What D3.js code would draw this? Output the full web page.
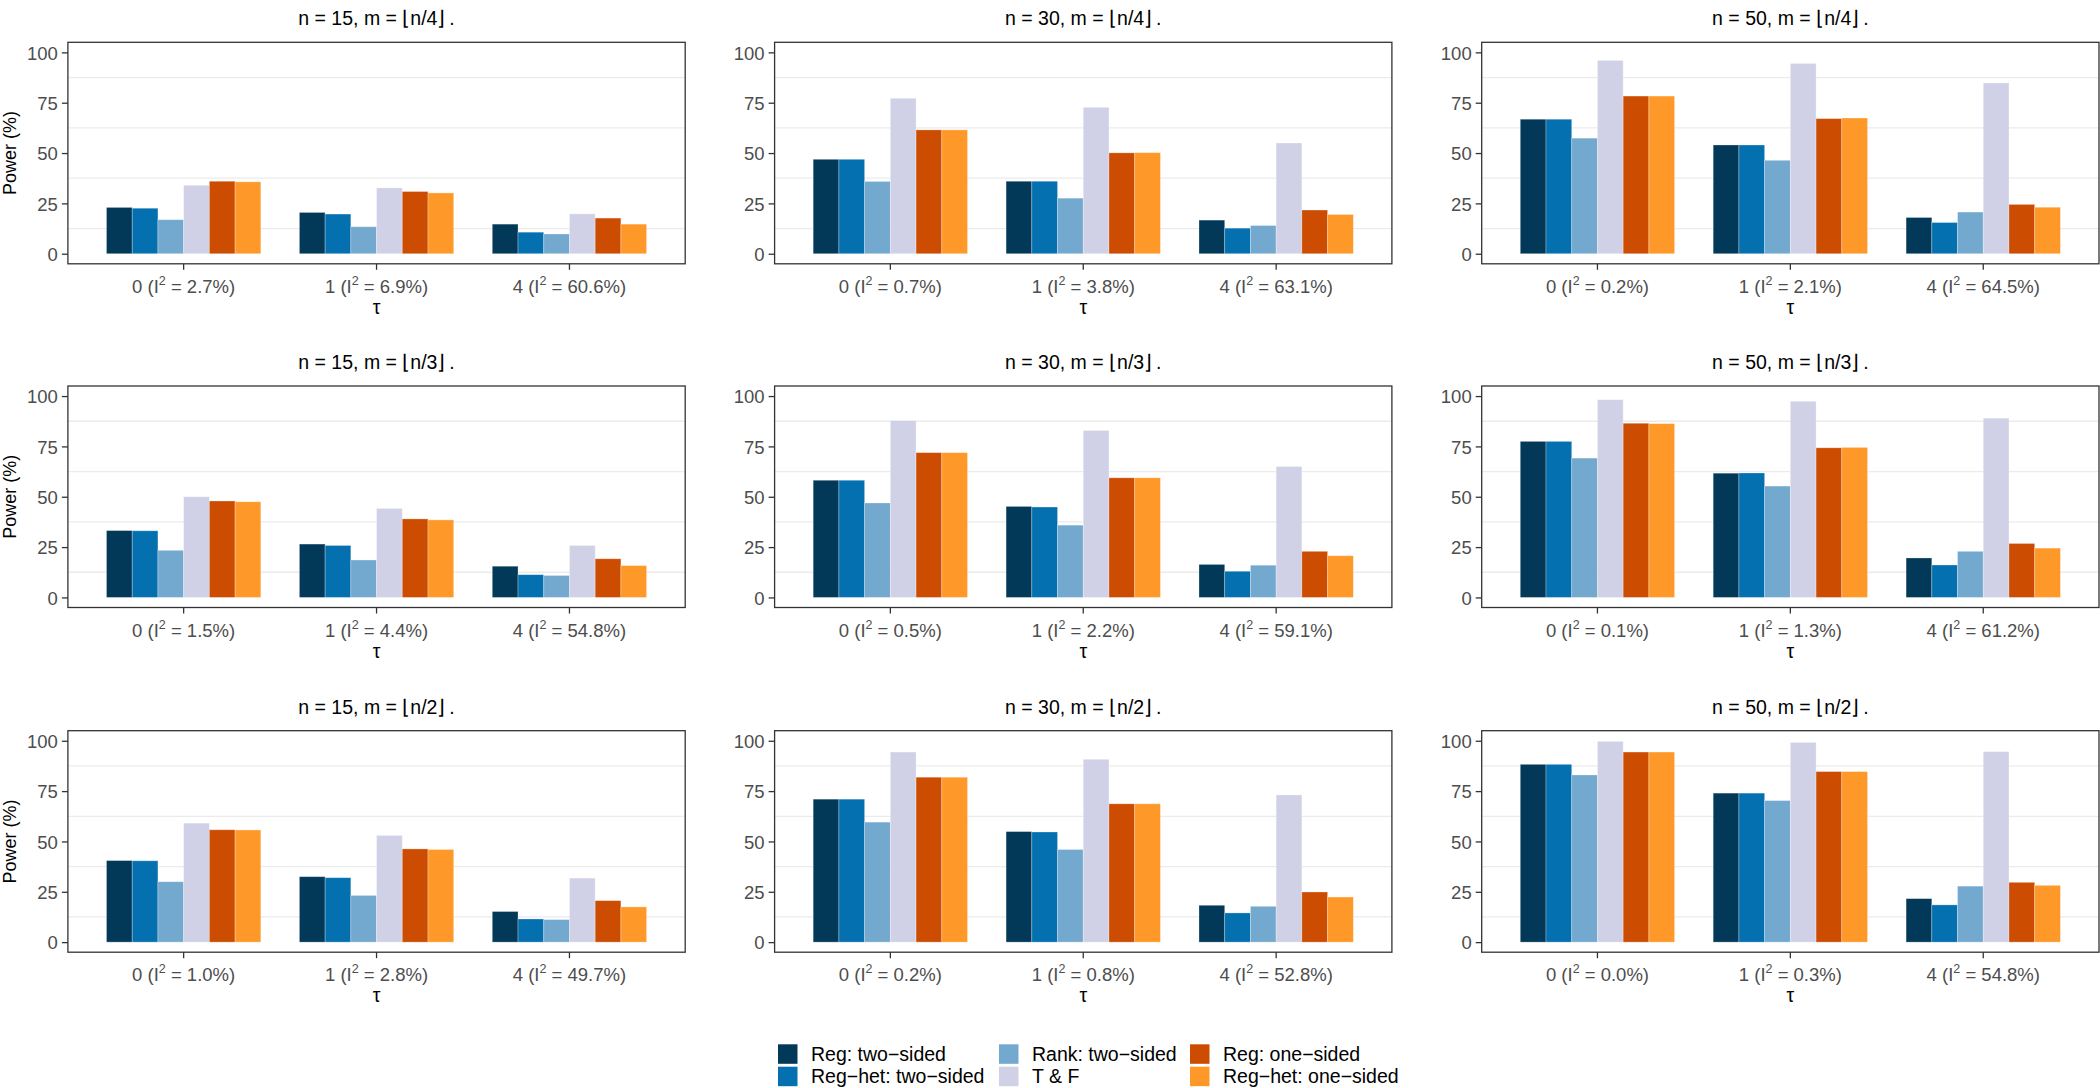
<!DOCTYPE html>
<html><head><meta charset="utf-8">
<script src="https://cdn.jsdelivr.net/npm/d3@7"></script>
<style>
body{margin:0;background:#fff}
text{font-family:"Liberation Sans",Arial,Helvetica,sans-serif}
</style>
</head><body>
<svg id="chart" width="2100" height="1088"></svg>
<script>
// ---------- data ----------
const seriesNames = ["Reg: two\u2212sided", "Reg\u2212het: two\u2212sided", "Rank: two\u2212sided", "T & F", "Reg: one\u2212sided", "Reg\u2212het: one\u2212sided"];
const seriesColors = ["#023858", "#0570b0", "#74a9cf", "#d0d1e6", "#cc4c02", "#fe9929"];
const tauLevels = ["0", "1", "4"];
const nLevels = [15, 30, 50];
const mLevels = ["n/4", "n/3", "n/2"];
const yTicks = [0, 25, 50, 75, 100];
const yMinor = [12.5, 37.5, 62.5, 87.5];

// I^2 labels, one array per m, indexed by n then tau
const i2_m4 = [["2.7", "6.9", "60.6"], ["0.7", "3.8", "63.1"], ["0.2", "2.1", "64.5"]];
const i2_m3 = [["1.5", "4.4", "54.8"], ["0.5", "2.2", "59.1"], ["0.1", "1.3", "61.2"]];
const i2_m2 = [["1.0", "2.8", "49.7"], ["0.2", "0.8", "52.8"], ["0.0", "0.3", "54.8"]];

// power (%) per panel: rows = tau (0,1,4), columns = series
const power_n15_m4 = [[23.0, 22.6, 16.9, 34.0, 36.0, 35.7], [20.5, 19.7, 13.4, 32.7, 30.9, 30.2], [14.7, 10.7, 9.8, 19.8, 17.7, 14.7]];
const power_n30_m4 = [[46.9, 46.9, 35.9, 77.2, 61.5, 61.5], [36.0, 36.0, 27.6, 72.7, 50.1, 50.2], [16.7, 12.7, 14.0, 55.0, 21.7, 19.5]];
const power_n50_m4 = [[66.8, 66.8, 57.4, 96.0, 78.3, 78.3], [54.0, 54.0, 46.4, 94.5, 67.1, 67.4], [18.0, 15.5, 20.7, 84.8, 24.5, 23.1]];
const power_n15_m3 = [[33.2, 33.1, 23.4, 50.0, 47.9, 47.5], [26.5, 25.8, 18.6, 44.2, 39.0, 38.5], [15.5, 11.3, 10.9, 25.8, 19.2, 15.8]];
const power_n30_m3 = [[58.2, 58.2, 46.9, 87.8, 71.9, 71.9], [45.2, 44.9, 35.9, 82.9, 59.4, 59.4], [16.4, 13.0, 16.0, 65.0, 22.9, 20.7]];
const power_n50_m3 = [[77.5, 77.5, 69.2, 98.2, 86.5, 86.3], [61.7, 61.8, 55.3, 97.4, 74.3, 74.5], [19.6, 16.1, 22.9, 89.0, 26.8, 24.5]];
const power_n15_m2 = [[40.5, 40.4, 30.0, 59.1, 55.8, 55.7], [32.5, 32.0, 23.2, 53.0, 46.3, 46.0], [15.2, 11.5, 11.2, 31.8, 20.6, 17.5]];
const power_n30_m2 = [[71.0, 71.0, 59.6, 94.4, 81.9, 81.9], [54.9, 54.7, 46.0, 90.8, 68.7, 68.7], [18.3, 14.5, 17.8, 73.1, 24.9, 22.4]];
const power_n50_m2 = [[88.3, 88.3, 83.0, 99.7, 94.4, 94.4], [74.0, 74.0, 70.3, 99.2, 84.7, 84.7], [21.6, 18.5, 27.8, 94.6, 29.7, 28.2]];

const powerGrid = [
  [power_n15_m4, power_n30_m4, power_n50_m4],
  [power_n15_m3, power_n30_m3, power_n50_m3],
  [power_n15_m2, power_n30_m2, power_n50_m2]
];
const i2Grid = [i2_m4, i2_m3, i2_m2];

// ---------- layout ----------
const colLeft = [67.9, 774.6, 1481.7];
const rowTop = [42.3, 386.0, 730.7];
const panelW = 617.3, panelH = 221.5;
const tickFont = 18.5, titleFont = 19.5;

const svg = d3.select("#chart");
svg.append("rect").attr("width", 2100).attr("height", 1088).attr("fill", "#fff");

const y = d3.scaleLinear().domain([-5, 105]).range([panelH, 0]);
const x0 = d3.scaleBand().domain(tauLevels).range([0, panelW]).paddingInner(0.2).paddingOuter(0.2);
const x1 = d3.scaleBand().domain(d3.range(seriesNames.length)).range([0, x0.bandwidth()]).padding(0);
const color = d3.scaleOrdinal().domain(d3.range(seriesNames.length)).range(seriesColors);

mLevels.forEach((m, r) => {
  nLevels.forEach((n, c) => {
    const data = powerGrid[r][c];
    const i2 = i2Grid[r][c];
    const g = svg.append("g").attr("transform", `translate(${colLeft[c]},${rowTop[r]})`);

    // minor gridlines
    g.selectAll("line.minor").data(yMinor).enter().append("line")
      .attr("x1", 0).attr("x2", panelW)
      .attr("y1", d => y(d)).attr("y2", d => y(d))
      .attr("stroke", "#ebebeb").attr("stroke-width", 1.3);

    // bars
    const groups = g.selectAll("g.grp").data(tauLevels).enter().append("g")
      .attr("transform", d => `translate(${x0(d)},0)`);
    groups.selectAll("rect").data((d, i) => data[i].map((v, s) => ({ v, s }))).enter().append("rect")
      .attr("x", d => x1(d.s))
      .attr("width", x1.bandwidth())
      .attr("y", d => y(d.v))
      .attr("height", d => y(0) - y(d.v))
      .attr("fill", d => color(d.s))
      .attr("stroke", "#ffffff").attr("stroke-opacity", 0.35).attr("stroke-width", 0.8);

    // panel border
    g.append("rect").attr("x", 0).attr("y", 0).attr("width", panelW).attr("height", panelH)
      .attr("fill", "none").attr("stroke", "#333333").attr("stroke-width", 1.3);

    // y axis
    const ya = g.append("g").call(d3.axisLeft(y).tickValues(yTicks).tickSize(6).tickSizeOuter(0).tickPadding(4));
    ya.select(".domain").remove();
    ya.selectAll(".tick line").attr("stroke", "#333333").attr("stroke-width", 1.3);
    ya.selectAll(".tick text").attr("fill", "#4d4d4d").style("font-size", tickFont + "px")
      .style("font-family", "'Liberation Sans',Arial,sans-serif").attr("dy", "0.36em");

    // x axis
    const xa = g.append("g").attr("transform", `translate(0,${panelH})`)
      .call(d3.axisBottom(x0).tickSize(6).tickSizeOuter(0).tickFormat(""));
    xa.select(".domain").remove();
    xa.selectAll(".tick line").attr("stroke", "#333333").attr("stroke-width", 1.3);
    xa.selectAll(".tick").each(function (d, i) {
      const t = d3.select(this).append("text")
        .attr("y", 29).attr("text-anchor", "middle").attr("fill", "#4d4d4d")
        .style("font-size", tickFont + "px");
      t.append("tspan").text(`${d} (I`);
      t.append("tspan").attr("dy", -8).style("font-size", "12.5px").text("2");
      t.append("tspan").attr("dy", 8).text(` = ${i2[i]}%)`);
    });

    // x axis title
    g.append("text").attr("x", panelW / 2).attr("y", panelH + 50)
      .attr("text-anchor", "middle").attr("fill", "#000").style("font-size", titleFont + "px").text("\u03c4");

    // y axis title (first column only)
    if (c === 0) {
      g.append("text")
        .attr("transform", `translate(${16 - colLeft[c]},${panelH / 2}) rotate(-90)`)
        .attr("text-anchor", "middle").attr("fill", "#000").style("font-size", "18px")
        .text("Power (%)");
    }

    // title
    g.append("text").attr("x", panelW / 2).attr("y", -17).attr("text-anchor", "middle")
      .attr("fill", "#000").style("font-size", titleFont + "px")
      .text(`n = ${n}, m = \u230a${m}\u230b\u2009.`);
  });
});

// ---------- legend ----------
const legendCols = [778, 999, 1190];
const legendRows = [1044.3, 1066.7];
const keySize = 19.5;
const legend = svg.append("g");
seriesNames.forEach((name, i) => {
  const col = Math.floor(i / 2), row = i % 2;
  const lx = legendCols[col], ly = legendRows[row];
  legend.append("rect").attr("x", lx).attr("y", ly).attr("width", keySize).attr("height", keySize)
    .attr("fill", color(i));
  legend.append("text").attr("x", lx + keySize + 13.5).attr("y", ly + keySize / 2).attr("dy", "0.36em")
    .attr("fill", "#000").style("font-size", titleFont + "px").text(name);
});
</script>
</body></html>
